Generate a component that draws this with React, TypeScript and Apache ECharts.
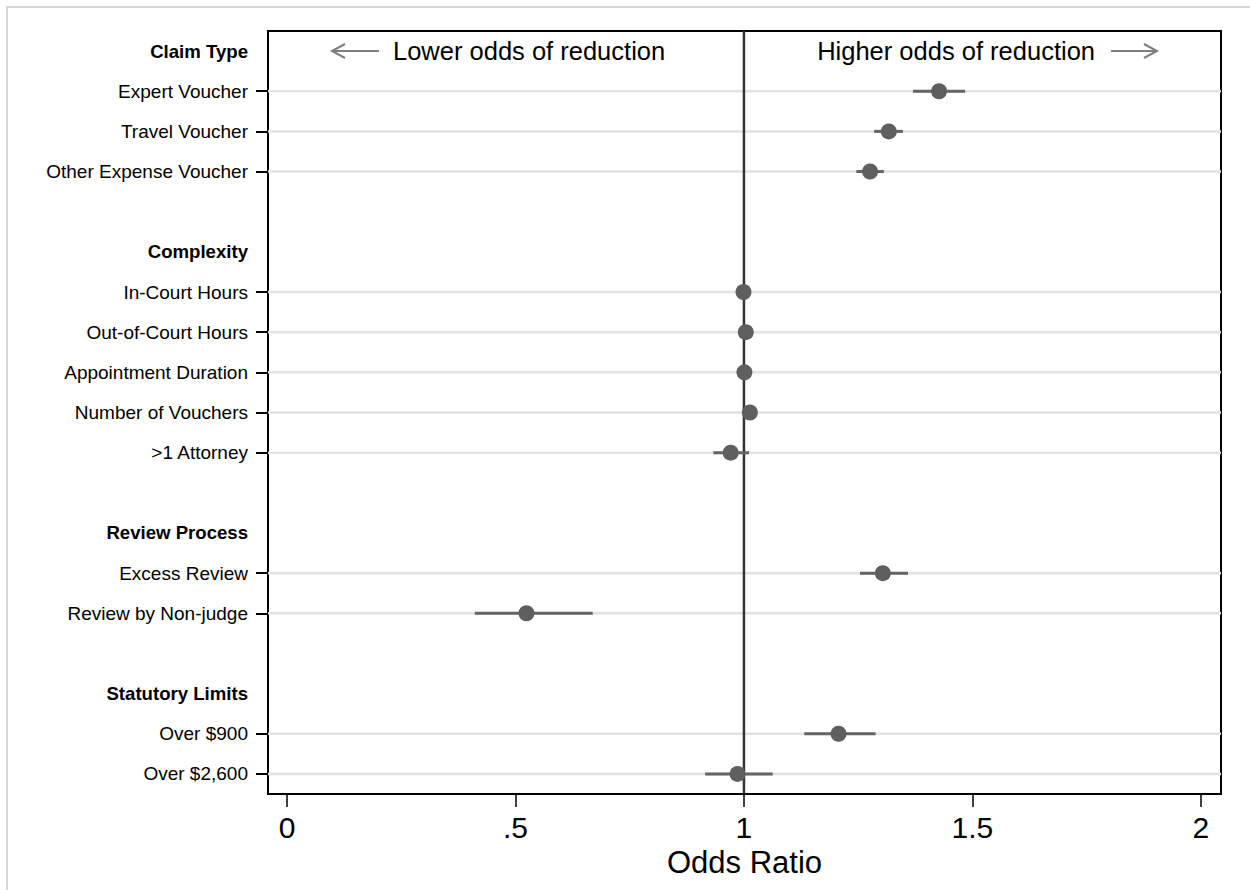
import React, { useEffect, useRef } from "react";
import * as echarts from "echarts";

// Row layout of the forest plot (top to bottom); empty strings are spacer rows
const rowLabels = [
  "Claim Type",
  "Expert Voucher",
  "Travel Voucher",
  "Other Expense Voucher",
  "",
  "Complexity",
  "In-Court Hours",
  "Out-of-Court Hours",
  "Appointment Duration",
  "Number of Vouchers",
  ">1 Attorney",
  "",
  "Review Process",
  "Excess Review",
  "Review by Non-judge",
  "",
  "Statutory Limits",
  "Over $900",
  "Over $2,600",
];
const headerRows = ["Claim Type", "Complexity", "Review Process", "Statutory Limits"];

// Estimates: odds ratio with 95% confidence interval
const estimateLabels = [
  "Expert Voucher",
  "Travel Voucher",
  "Other Expense Voucher",
  "In-Court Hours",
  "Out-of-Court Hours",
  "Appointment Duration",
  "Number of Vouchers",
  ">1 Attorney",
  "Excess Review",
  "Review by Non-judge",
  "Over $900",
  "Over $2,600",
];
const oddsRatio = [1.427, 1.317, 1.276, 0.999, 1.004, 1.001, 1.013, 0.971, 1.304, 0.524, 1.207, 0.986];
const ciLower = [1.37, 1.285, 1.246, 0.997, 1.001, 0.999, 1.01, 0.933, 1.254, 0.411, 1.132, 0.915];
const ciUpper = [1.484, 1.348, 1.306, 1.001, 1.007, 1.003, 1.017, 1.011, 1.359, 0.669, 1.288, 1.063];

const xTicks = [0, 0.5, 1, 1.5, 2];

const FONT = "'Liberation Sans', Arial, Helvetica, sans-serif";

export default function App() {
  const ref = useRef<HTMLDivElement>(null);

  useEffect(() => {
    if (!ref.current) return;
    const chart = echarts.init(ref.current, null, { renderer: "svg" });

    const rowIndex = (label: string) => rowLabels.indexOf(label);
    const gridRows = estimateLabels.map((l) => [0, rowIndex(l)]);
    const ciData = estimateLabels.map((l, i) => [ciLower[i], ciUpper[i], rowIndex(l)]);
    const pointData = estimateLabels.map((l, i) => [oddsRatio[i], rowIndex(l)]);

    chart.setOption({
      animation: false,
      backgroundColor: "#ffffff",
      textStyle: { fontFamily: FONT },
      grid: {
        left: 268,
        right: 29,
        top: 31,
        bottom: 96,
        show: true,
        borderColor: "#000",
        borderWidth: 2,
        backgroundColor: "#fff",
      },
      xAxis: {
        type: "value",
        min: -0.0416,
        max: 2.044,
        name: "Odds Ratio",
        nameLocation: "middle",
        nameGap: 53,
        nameTextStyle: { fontSize: 31, color: "#000", fontFamily: FONT },
        axisLine: { show: true, onZero: false, lineStyle: { color: "#000", width: 2 } },
        axisTick: {
          show: true,
          length: 13,
          customValues: xTicks,
          lineStyle: { color: "#000", width: 1.5 },
        },
        axisLabel: {
          customValues: xTicks,
          fontSize: 30,
          color: "#000",
          margin: 18,
          fontFamily: FONT,
          formatter: (v: number) => (v === 0.5 ? ".5" : String(v)),
        },
        splitLine: { show: false },
      },
      yAxis: {
        type: "category",
        data: rowLabels,
        inverse: true,
        axisLine: { show: true, onZero: false, lineStyle: { color: "#000", width: 2 } },
        axisTick: {
          show: true,
          alignWithLabel: true,
          length: 12,
          interval: (_i: number, v: string) => v !== "" && !headerRows.includes(v),
          lineStyle: { color: "#000", width: 2 },
        },
        axisLabel: {
          interval: 0,
          margin: 20,
          fontSize: 19,
          color: "#000",
          fontFamily: FONT,
          formatter: (v: string) => (headerRows.includes(v) ? `{h|${v}}` : v),
          rich: {
            h: { fontWeight: "bold", fontSize: 18.6, color: "#000", fontFamily: FONT },
          },
        },
        splitLine: { show: false },
      },
      graphic: [
        {
          type: "rect",
          shape: { x: 7, y: 7, width: 1260, height: 900 },
          style: { fill: "none", stroke: "#d6d6d6", lineWidth: 2 },
          silent: true,
          z: 100,
        },
        {
          type: "text",
          x: 393,
          y: 51,
          style: {
            text: "Lower odds of reduction",
            fontSize: 25.5,
            fontFamily: FONT,
            fill: "#000",
            verticalAlign: "middle",
            align: "left",
          },
          z: 100,
        },
        {
          type: "text",
          x: 1095,
          y: 51,
          style: {
            text: "Higher odds of reduction",
            fontSize: 25.5,
            fontFamily: FONT,
            fill: "#000",
            verticalAlign: "middle",
            align: "right",
          },
          z: 100,
        },
        {
          type: "polyline",
          shape: { points: [[379, 51], [332, 51]] },
          style: { stroke: "#808080", lineWidth: 2, fill: "none" },
          z: 100,
        },
        {
          type: "polyline",
          shape: { points: [[345, 44], [332, 51], [345, 58]] },
          style: { stroke: "#808080", lineWidth: 2, fill: "none" },
          z: 100,
        },
        {
          type: "polyline",
          shape: { points: [[1111, 51], [1157, 51]] },
          style: { stroke: "#808080", lineWidth: 2, fill: "none" },
          z: 100,
        },
        {
          type: "polyline",
          shape: { points: [[1144, 44], [1157, 51], [1144, 58]] },
          style: { stroke: "#808080", lineWidth: 2, fill: "none" },
          z: 100,
        },
      ],
      series: [
        {
          // horizontal guide lines for each estimate row
          type: "custom",
          z: 1,
          silent: true,
          data: gridRows,
          encode: { x: 0, y: 1 },
          renderItem: (params: any, api: any) => {
            const cs = params.coordSys;
            const y = api.coord([0, api.value(1)])[1];
            return {
              type: "line",
              shape: { x1: cs.x, y1: y, x2: cs.x + cs.width, y2: y },
              style: { stroke: "#e2e2e2", lineWidth: 2.5 },
            };
          },
        },
        {
          // reference line at odds ratio = 1
          type: "custom",
          z: 2,
          silent: true,
          data: [[1, 0]],
          encode: { x: 0, y: 1 },
          renderItem: (params: any, api: any) => {
            const cs = params.coordSys;
            const x = api.coord([api.value(0), 0])[0];
            return {
              type: "line",
              shape: { x1: x, y1: cs.y, x2: x, y2: cs.y + cs.height },
              style: { stroke: "#333333", lineWidth: 2.5 },
            };
          },
        },
        {
          // confidence intervals
          type: "custom",
          z: 3,
          data: ciData,
          encode: { x: [0, 1], y: 2 },
          renderItem: (_params: any, api: any) => {
            const p1 = api.coord([api.value(0), api.value(2)]);
            const p2 = api.coord([api.value(1), api.value(2)]);
            return {
              type: "line",
              shape: { x1: p1[0], y1: p1[1], x2: p2[0], y2: p2[1] },
              style: { stroke: "#646464", lineWidth: 3 },
            };
          },
        },
        {
          type: "scatter",
          z: 4,
          data: pointData,
          symbol: "circle",
          symbolSize: 16,
          itemStyle: { color: "#5f5f5f", opacity: 1 },
        },
      ],
    });

    return () => chart.dispose();
  }, []);

  return (
    <div
      ref={ref}
      style={{ position: "absolute", left: 0, top: 0, width: 1250, height: 890 }}
    />
  );
}
